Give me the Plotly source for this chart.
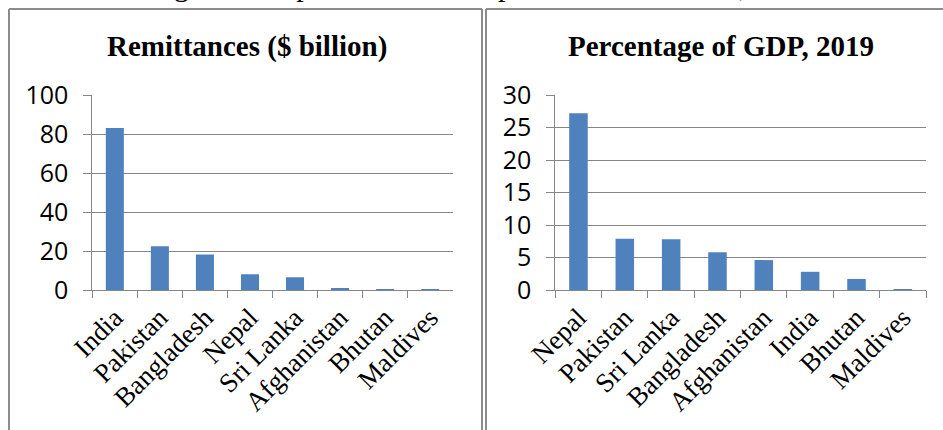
import plotly.graph_objects as go

W, H = 943, 430

caption = "Figure 1: Top remittance recipients in South Asia, 2019"

left_title = "Remittances ($ billion)"
left_countries = ["India", "Pakistan", "Bangladesh", "Nepal", "Sri Lanka",
                  "Afghanistan", "Bhutan", "Maldives"]
left_values = [83.1, 22.4, 18.2, 8.1, 6.6, 0.8, 0.1, 0.004]

right_title = "Percentage of GDP, 2019"
right_countries = ["Nepal", "Pakistan", "Sri Lanka", "Bangladesh", "Afghanistan",
                   "India", "Bhutan", "Maldives"]
right_values = [27.2, 7.9, 7.8, 5.8, 4.6, 2.8, 1.7, 0.05]

left_ticks = [0, 20, 40, 60, 80, 100]
right_ticks = [0, 5, 10, 15, 20, 25, 30]

BAR = "#4F81BD"
GRID = "#868686"
BORDER = "#8c8c8c"
SERIF = "Liberation Serif, Times New Roman, serif"
SANS = "Open Sans, sans-serif"


def px(x):
    return x / W


def py(y):
    return 1 - y / H


fig = go.Figure()
fig.add_trace(go.Bar(x=left_countries, y=left_values, marker_color=BAR,
                     marker_line_width=0, xaxis="x", yaxis="y", width=0.4))
fig.add_trace(go.Bar(x=right_countries, y=right_values, marker_color=BAR,
                     marker_line_width=0, xaxis="x2", yaxis="y2", width=0.4))

ydom = [py(290), py(95)]
common_x = dict(type="category", tickson="boundaries", ticks="outside", ticklen=7,
                tickcolor=GRID, tickwidth=1, showline=True, linecolor=GRID, linewidth=1,
                showgrid=False, tickangle=-45, automargin=False,
                tickfont=dict(family=SERIF, size=27, color="black"), fixedrange=True)
common_y = dict(ticks="outside", ticklen=8, tickcolor=GRID, tickwidth=1, showline=True,
                linecolor=GRID, linewidth=1, showgrid=True, gridcolor=GRID, gridwidth=1,
                zeroline=False, tickfont=dict(family=SANS, size=25, color="black"),
                ticklabelstandoff=10, fixedrange=True, automargin=False)

fig.update_layout(
    width=W, height=H, margin=dict(l=0, r=0, t=0, b=0, pad=0, autoexpand=False),
    paper_bgcolor="white", plot_bgcolor="white", showlegend=False,
    xaxis=dict(domain=[px(92.3), px(452.7)], anchor="y", **common_x),
    yaxis=dict(domain=ydom, anchor="x", range=[0, 100], tickvals=left_ticks, **common_y),
    xaxis2=dict(domain=[px(555.3), px(926)], anchor="y2", **common_x),
    yaxis2=dict(domain=ydom, anchor="x2", range=[0, 30], tickvals=right_ticks, **common_y),
)

# panel borders
lines = [
    (9, 9, 9, H + 5), (9, 9, 482, 9), (482, 9, 482, H + 5),
    (486, 9, 486, H + 5), (486, 9, W + 5, 9),
]
for x0, y0, x1, y1 in lines:
    fig.add_shape(type="line", xref="paper", yref="paper",
                  x0=px(x0), y0=py(y0), x1=px(x1), y1=py(y1),
                  line=dict(color=BORDER, width=2))

# titles
fig.add_annotation(text="<b>" + left_title + "</b>", x=px(247), y=py(46),
                   xref="paper", yref="paper", showarrow=False, xanchor="center",
                   yanchor="middle", font=dict(family=SERIF, size=29, color="black"))
fig.add_annotation(text="<b>" + right_title + "</b>", x=px(721), y=py(46),
                   xref="paper", yref="paper", showarrow=False, xanchor="center",
                   yanchor="middle", font=dict(family=SERIF, size=29, color="black"))
# caption clipped at top (as in the reference)
fig.add_annotation(text=caption, x=px(482), y=py(4), xref="paper", yref="paper",
                   showarrow=False, xanchor="center", yanchor="bottom",
                   font=dict(family=SERIF, size=30, color="black"))

fig.write_html("out.html", config={"displayModeBar": False},
               post_script="document.body.style.margin='0';document.body.style.padding='0';")
